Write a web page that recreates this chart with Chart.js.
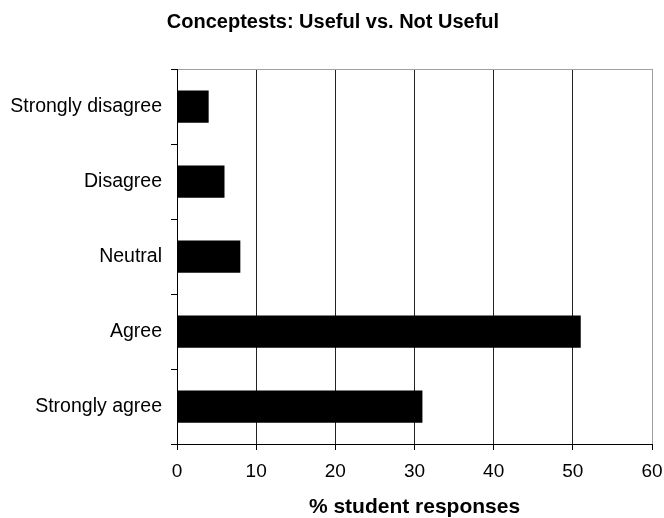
<!DOCTYPE html>
<html>
<head>
<meta charset="utf-8">
<script src="https://cdn.jsdelivr.net/npm/chart.js@4"></script>
<style>
  html, body { margin: 0; padding: 0; background: #fff; }
  canvas { display: block; }
</style>
</head>
<body>
<canvas id="chart" width="664" height="518"></canvas>
<script>
const categories = ["Strongly disagree", "Disagree", "Neutral", "Agree", "Strongly agree"];
const responses = [4, 6, 8, 51, 31];
const xTicks = [0, 10, 20, 30, 40, 50, 60];

const FONT = "'Liberation Sans', Arial, sans-serif";

new Chart(document.getElementById("chart"), {
  type: "bar",
  data: {
    labels: categories,
    datasets: [
      {
        data: responses,
        backgroundColor: "#000",
        borderWidth: 0,
        barPercentage: 0.43,
        categoryPercentage: 1,
      },
    ],
  },
  options: {
    indexAxis: "y",
    responsive: false,
    animation: false,
    layout: { padding: { left: 2, right: 0, top: 0, bottom: 0 } },
    plugins: {
      legend: { display: false },
      tooltip: { enabled: false },
      title: {
        display: true,
        text: "Conceptests: Useful vs. Not Useful",
        color: "#000",
        font: { family: FONT, size: 20, weight: "bold", lineHeight: 1.2 },
        padding: { top: 10, bottom: 35 },
      },
    },
    scales: {
      x: {
        type: "linear",
        min: xTicks[0],
        max: xTicks[xTicks.length - 1],
        afterBuildTicks: (scale) => {
          scale.ticks = xTicks.map((v) => ({ value: v }));
        },
        afterFit: (scale) => {
          scale.height = 74;
          scale.paddingLeft = 0;
          scale.paddingRight = 12;
        },
        ticks: {
          color: "#000",
          padding: 10,
          font: { family: FONT, size: 19 },
          maxRotation: 0,
        },
        grid: {
          color: (ctx) => (ctx.index === xTicks.length - 1 ? "#a0a0a0" : "#222"),
          tickColor: "#000",
          tickLength: 6,
          lineWidth: 1,
        },
        border: { display: true, color: "#000", width: 1 },
        title: {
          display: true,
          text: "% student responses",
          color: "#000",
          font: { family: FONT, size: 21, weight: "bold", lineHeight: 1 },
          padding: { top: 0, bottom: 0 },
        },
      },
      y: {
        type: "category",
        offset: true,
        afterFit: (scale) => {
          scale.width = 175;
        },
        ticks: {
          color: "#000",
          padding: 9,
          font: { family: FONT, size: 19.5 },
        },
        grid: {
          offset: true,
          color: (ctx) => (ctx.index === 0 ? "#a0a0a0" : "rgba(0,0,0,0)"),
          tickColor: "#000",
          tickLength: 6,
          lineWidth: 1,
        },
        border: { display: true, color: "#000", width: 1 },
      },
    },
  },
});
</script>
</body>
</html>
